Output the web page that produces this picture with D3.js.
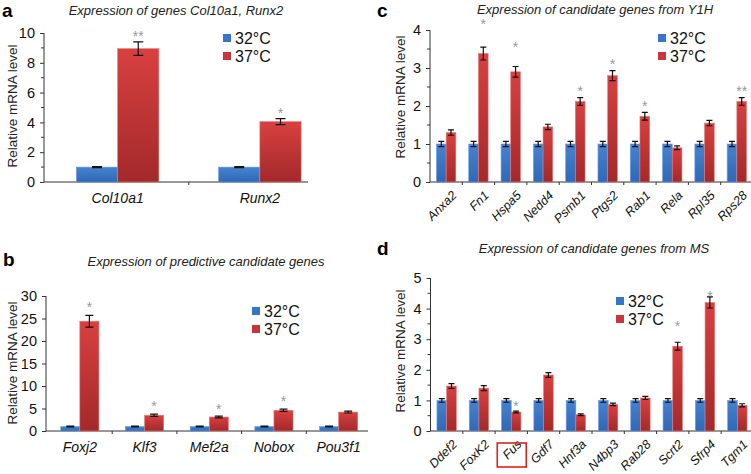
<!DOCTYPE html>
<html>
<head>
<meta charset="utf-8">
<script src="https://cdn.jsdelivr.net/npm/d3@7"></script>
<style>
  body { margin: 0; background: #fff; }
  svg { font-family: "Liberation Sans", Arial, sans-serif; }
</style>
</head>
<body>
<svg id="fig" width="751" height="474"></svg>
<script>
// legend
var seriesNames = ["32°C", "37°C"];

// panel a
var genesA = ["Col10a1", "Runx2"];
var a32 = [1.0, 1.0], a32err = [0.04, 0.04];
var a37 = [8.95, 4.05], a37err = [0.45, 0.2];
var aStars = ["**", "*"], aStarAt = [10.0, 4.8];
var aTicks = [0, 2, 4, 6, 8, 10];

// panel b
var genesB = ["Foxj2", "Klf3", "Mef2a", "Nobox", "Pou3f1"];
var b32 = [1.0, 1.0, 1.0, 1.0, 1.0], b32err = [0.1, 0.1, 0.1, 0.1, 0.1];
var b37 = [24.4, 3.5, 3.1, 4.6, 4.2], b37err = [1.3, 0.25, 0.2, 0.25, 0.2];
var bStars = ["*", "*", "*", "*", ""], bStarAt = [28.2, 6.2, 5.5, 7.3, 0];
var bTicks = [0, 5, 10, 15, 20, 25, 30];

// panel c
var genesC = ["Anxa2", "Fn1", "Hspa5", "Nedd4", "Psmb1", "Ptgs2", "Rab1", "Rela", "Rpl35", "Rps28"];
var c32 = [1, 1, 1, 1, 1, 1, 1, 1, 1, 1];
var c32err = [0.07, 0.07, 0.07, 0.07, 0.07, 0.07, 0.07, 0.07, 0.07, 0.07];
var c37 = [1.3, 3.38, 2.9, 1.45, 2.12, 2.8, 1.73, 0.9, 1.55, 2.12];
var c37err = [0.07, 0.17, 0.14, 0.07, 0.1, 0.13, 0.1, 0.05, 0.07, 0.1];
var cStars = ["", "*", "*", "", "*", "*", "*", "", "", "**"];
var cStarAt = [0, 4.25, 3.63, 0, 2.47, 3.18, 2.08, 0, 0, 2.47];
var cTicks = [0, 1, 2, 3, 4];

// panel d
var genesD = ["Ddef2", "FoxK2", "Fus", "Gdf7", "Hnf3a", "N4bp3", "Rab28", "Scrt2", "Sfrp4", "Tgm1"];
var d32 = [1, 1, 1, 1, 1, 1, 1, 1, 1, 1];
var d32err = [0.06, 0.06, 0.06, 0.06, 0.06, 0.06, 0.06, 0.06, 0.06, 0.06];
var d37 = [1.47, 1.4, 0.62, 1.83, 0.53, 0.87, 1.08, 2.77, 4.2, 0.84];
var d37err = [0.08, 0.08, 0.03, 0.08, 0.03, 0.04, 0.05, 0.13, 0.18, 0.05];
var dStars = ["", "", "*", "", "", "", "", "*", "*", ""];
var dStarAt = [0, 0, 0.93, 0, 0, 0, 0, 3.53, 4.52, 0];
var dTicks = [0, 1, 2, 3, 4, 5];
var dBoxed = "Fus";

var svg = d3.select("#fig");

// gradients for bars
var defs = svg.append("defs");
function addGrad(id, top, bottom) {
  var g = defs.append("linearGradient").attr("id", id)
    .attr("x1", 0).attr("y1", 0).attr("x2", 0).attr("y2", 1);
  g.append("stop").attr("offset", "0%").attr("stop-color", top);
  g.append("stop").attr("offset", "100%").attr("stop-color", bottom);
}
addGrad("gBlue", "#4583d0", "#2f68b6");
addGrad("gRed", "#d8403f", "#a3292b");
var fills = ["url(#gBlue)", "url(#gRed)"];
var legendColors = ["#3576c9", "#c8353a"];

function drawPanel(p) {
  var x0 = d3.scaleBand().domain(p.genes).range(p.xRange).padding(0);
  var bw = x0.bandwidth();
  var x1 = d3.scaleBand().domain([0, 1])
    .range([bw * (1 - p.groupFrac) / 2, bw * (1 + p.groupFrac) / 2]).padding(0);
  var y = d3.scaleLinear().domain([0, p.yMax]).range(p.yRange);

  var g = svg.append("g");

  // panel letter
  g.append("text").attr("x", p.letter[1]).attr("y", p.letter[2])
    .style("font-size", "19px").style("font-weight", "bold").text(p.letter[0]);

  // title
  g.append("text").attr("x", p.title[1]).attr("y", p.title[2])
    .attr("text-anchor", "middle").style("font-size", "13px")
    .style("font-style", "italic").style("fill", "#222").text(p.title[0]);

  // y axis
  var yAxis = d3.axisLeft(y).tickValues(p.ticks).tickSize(4).tickPadding(5)
    .tickFormat(d3.format("d"));
  var ya = g.append("g").attr("transform", "translate(" + p.axisX + ",0)").call(yAxis);
  ya.select(".domain").attr("d", "M0," + p.yRange[0] + "V" + p.yRange[1]);
  ya.selectAll("text").style("font-size", "14.5px").style("fill", "#111")
    .style("font-family", "Liberation Sans, Arial, sans-serif");
  ya.selectAll("line, path").attr("stroke", "#333");
  if (p.minor) {
    var minorVals = d3.range(p.minor, p.yMax, p.minor).filter(function(v) {
      return p.ticks.indexOf(v) < 0;
    });
    g.selectAll(".minor").data(minorVals).enter().append("line")
      .attr("x1", p.axisX - 3).attr("x2", p.axisX)
      .attr("y1", function(d) { return y(d); }).attr("y2", function(d) { return y(d); })
      .attr("stroke", "#333");
  }

  // y label
  g.append("text")
    .attr("transform", "translate(" + p.yLabel[0] + "," + p.yLabel[1] + ") rotate(-90)")
    .attr("text-anchor", "middle").attr("dy", "0.35em")
    .style("font-size", "13.5px").style("fill", "#222").text("Relative mRNA level");

  // x axis line + ticks at band boundaries
  g.append("line").attr("x1", p.axisX).attr("x2", p.xAxisEnd)
    .attr("y1", p.yRange[0]).attr("y2", p.yRange[0]).attr("stroke", "#333");
  var bounds = p.genes.slice(1).map(function(d) { return x0(d); });
  g.selectAll(".xt").data(bounds).enter().append("line")
    .attr("x1", function(d) { return d; }).attr("x2", function(d) { return d; })
    .attr("y1", p.yRange[0]).attr("y2", p.yRange[0] + 3).attr("stroke", "#333");

  // bars
  var rows = p.genes.map(function(gene, i) {
    return { gene: gene, vals: [p.v32[i], p.v37[i]], errs: [p.e32[i], p.e37[i]],
             star: p.stars[i], starAt: p.starAt[i] };
  });
  var grp = g.selectAll(".grp").data(rows).enter().append("g")
    .attr("transform", function(d) { return "translate(" + x0(d.gene) + ",0)"; });
  var cells = grp.selectAll(".cell").data(function(d) {
    return d.vals.map(function(v, k) { return { k: k, v: v, e: d.errs[k] }; });
  }).enter().append("g");
  cells.append("rect")
    .attr("x", function(d) { return x1(d.k); })
    .attr("width", x1.bandwidth())
    .attr("y", function(d) { return y(d.v); })
    .attr("height", function(d) { return y(0) - y(d.v); })
    .attr("fill", function(d) { return fills[d.k]; })
    .attr("stroke", function(d) { return d.k ? "#e77a77" : "#6a9ee0"; })
    .attr("stroke-width", 0.6);
  // error bars
  var cap = p.cap;
  cells.append("path")
    .attr("d", function(d) {
      var cx = x1(d.k) + x1.bandwidth() / 2, t = y(d.v + d.e), b = y(d.v - d.e);
      return "M" + cx + "," + t + "V" + b +
        "M" + (cx - cap) + "," + t + "H" + (cx + cap) +
        "M" + (cx - cap) + "," + b + "H" + (cx + cap);
    })
    .attr("stroke", "#111").attr("stroke-width", 1.2).attr("fill", "none");
  // stars
  grp.filter(function(d) { return d.star; }).append("text")
    .attr("x", x1(1) + x1.bandwidth() / 2)
    .attr("y", function(d) { return y(d.starAt) + 8; })
    .attr("text-anchor", "middle").style("font-size", "14px").style("fill", "#999")
    .text(function(d) { return d.star; });

  // category labels
  var lab = g.selectAll(".lab").data(p.genes).enter().append("text")
    .style("font-size", p.rotate ? "12.5px" : "14px").style("font-style", "italic")
    .style("fill", "#111").text(function(d) { return d; });
  if (p.rotate) {
    lab.attr("text-anchor", "end")
      .attr("transform", function(d) {
        return "translate(" + (x0(d) + bw / 2 + 5) + "," + (p.yRange[0] + 8) + ") rotate(-45)";
      })
      .attr("dy", "0.7em");
  } else {
    lab.attr("text-anchor", "middle")
      .attr("x", function(d) { return x0(d) + bw / 2; })
      .attr("y", p.yRange[0] + 21);
  }
  if (p.boxed) {
    var bx = x0(p.boxed) + bw / 2;
    g.append("rect").attr("x", bx - 14).attr("y", p.yRange[0] + 12)
      .attr("width", 29).attr("height", 24)
      .attr("fill", "none").attr("stroke", "#e02020").attr("stroke-width", 1.6);
  }

  // legend
  var lg = g.append("g").attr("transform", "translate(" + p.legend[0] + "," + p.legend[1] + ")");
  seriesNames.forEach(function(name, k) {
    lg.append("rect").attr("x", 0).attr("y", k * 18 - 4).attr("width", 8).attr("height", 8)
      .attr("fill", legendColors[k]);
    lg.append("text").attr("x", 12).attr("y", k * 18).attr("dy", "0.36em")
      .style("font-size", "16px").style("fill", "#111").text(name);
  });
}

drawPanel({
  genes: genesA, v32: a32, e32: a32err, v37: a37, e37: a37err, stars: aStars, starAt: aStarAt,
  ticks: aTicks, yMax: 10, minor: 1, xRange: [46.5, 331], xAxisEnd: 308, axisX: 44,
  yRange: [182, 33], groupFrac: 0.58, cap: 5,
  letter: ["a", 2, 17], title: ["Expression of genes Col10a1, Runx2", 176, 15],
  yLabel: [12, 106], legend: [223, 38], rotate: false
});
drawPanel({
  genes: genesB, v32: b32, e32: b32err, v37: b37, e37: b37err, stars: bStars, starAt: bStarAt,
  ticks: bTicks, yMax: 30, minor: 0, xRange: [47.5, 371], xAxisEnd: 368, axisX: 46,
  yRange: [431, 296], groupFrac: 0.59, cap: 4,
  letter: ["b", 3, 266], title: ["Expression of predictive candidate genes", 206, 266],
  yLabel: [12, 363], legend: [252, 311], rotate: false
});
drawPanel({
  genes: genesC, v32: c32, e32: c32err, v37: c37, e37: c37err, stars: cStars, starAt: cStarAt,
  ticks: cTicks, yMax: 4, minor: 0.5, xRange: [430, 753], xAxisEnd: 751, axisX: 430,
  yRange: [182, 30], groupFrac: 0.6, cap: 3,
  letter: ["c", 377, 17], title: ["Expression of candidate genes from Y1H", 595, 14],
  yLabel: [400, 97], legend: [658, 38], rotate: true
});
drawPanel({
  genes: genesD, v32: d32, e32: d32err, v37: d37, e37: d37err, stars: dStars, starAt: dStarAt,
  ticks: dTicks, yMax: 5, minor: 0.5, xRange: [430.5, 753.5], xAxisEnd: 751, axisX: 430.5,
  yRange: [431, 278], groupFrac: 0.6, cap: 3, boxed: dBoxed,
  letter: ["d", 377, 255], title: ["Expression of candidate genes from MS", 594, 253],
  yLabel: [400, 351], legend: [616, 301], rotate: true
});
</script>
</body>
</html>
